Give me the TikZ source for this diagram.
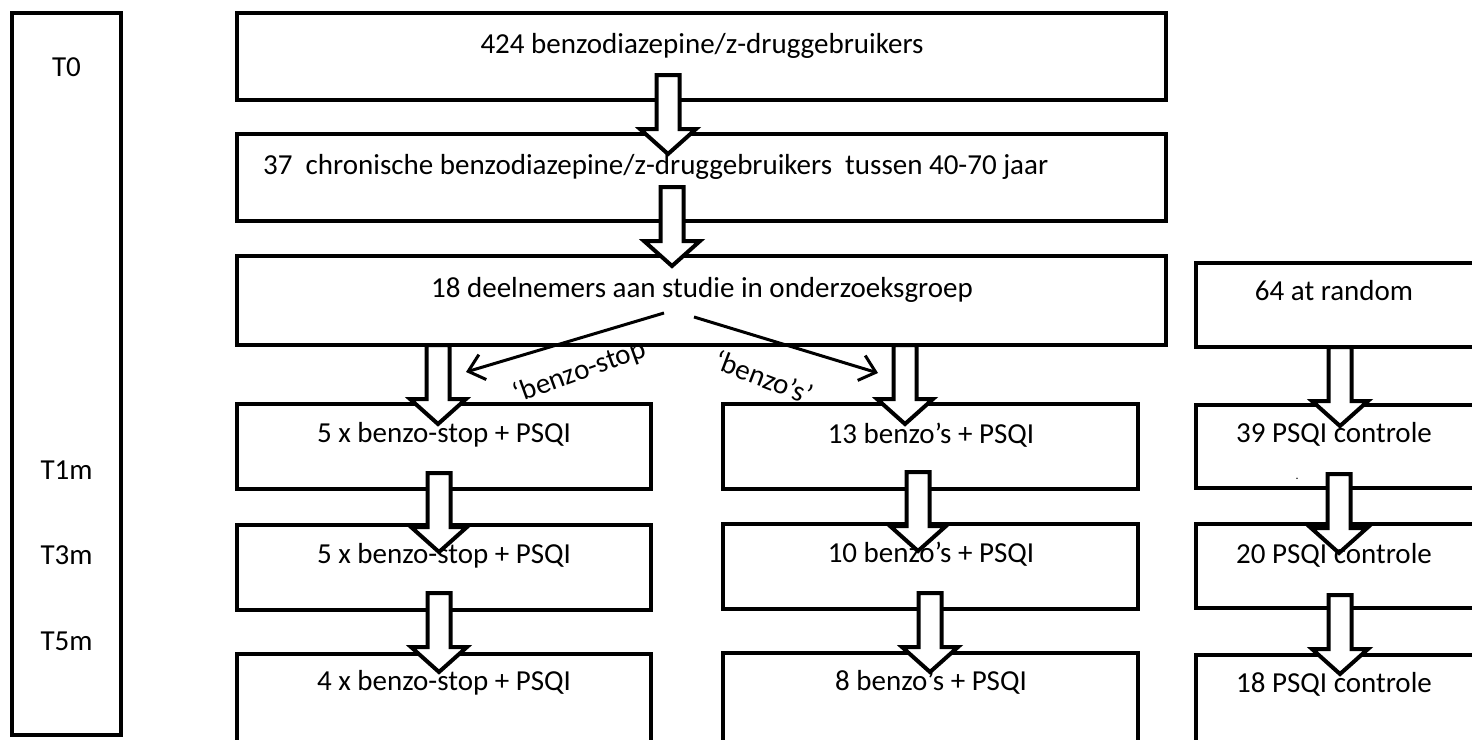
\documentclass[tikz,border=0pt]{standalone}
\usepackage{fontspec}
\setmainfont{Carlito}
\usetikzlibrary{arrows.meta}
\tikzset{
  framebox/.style={draw=black, line width=4pt, inner sep=0pt, minimum width=#1},
  txt/.style={font=\fontsize{29}{35}\selectfont, inner sep=0pt, anchor=base},
  lbl/.style={font=\fontsize{29}{35}\selectfont, inner sep=0pt, anchor=center},
  thinarrow/.style={line width=3pt, -{Straight Barb[length=15pt,width=26pt]}},
  blockarrow/.pic={\draw[line width=4pt, fill=white, line join=miter]
     (-11.5,0) -- (11.5,0) -- (11.5,54) -- (28,54) -- (0,79) -- (-28,54) -- (-11.5,54) -- cycle;}
}
\begin{document}
\begin{tikzpicture}[x=1pt,y=-1pt]
\useasboundingbox (0,0) rectangle (1472,739);
\fill[white] (0,0) rectangle (1472,739);
\clip (0,0) rectangle (1472,739);
% boxes
\node[framebox=109pt, minimum height=722pt] (tl) at (66.5,374) {};
\node[framebox=929pt, minimum height=87pt] (b1) at (701.5,56.5) {};
\node[framebox=929pt, minimum height=87pt] (b2) at (701.5,177.5) {};
\node[framebox=929pt, minimum height=89pt] (b3) at (701.5,300.5) {};
\node[framebox=277.5pt, minimum height=84pt] (r0) at (1334.75,305) {};
\node[framebox=414pt, minimum height=85pt] (l1) at (444,446.5) {};
\node[framebox=414pt, minimum height=85pt] (l2) at (444,567.5) {};
\node[framebox=414pt, minimum height=126pt] (l3) at (444,717) {};
\node[framebox=415pt, minimum height=85pt] (m1) at (930.5,446.5) {};
\node[framebox=415pt, minimum height=85pt] (m2) at (930.5,566.5) {};
\node[framebox=415pt, minimum height=126pt] (m3) at (930.5,716) {};
\node[framebox=277.5pt, minimum height=83pt] (r1) at (1334.75,446.5) {};
\node[framebox=277.5pt, minimum height=84pt] (r2) at (1334.75,566) {};
\node[framebox=277.5pt, minimum height=126pt] (r3) at (1334.75,718) {};
% block arrows
\pic at (668,75) {blockarrow};
\pic at (672,187) {blockarrow};
\pic at (438,345) {blockarrow};
\pic at (905,345) {blockarrow};
\pic at (1340,347) {blockarrow};
\pic at (439,473) {blockarrow};
\pic at (918,472) {blockarrow};
\pic at (1339,474) {blockarrow};
\pic at (439,593) {blockarrow};
\pic at (930,593) {blockarrow};
\pic at (1340,595) {blockarrow};
% thin arrows
\coordinate (s1) at (664,313);
\coordinate (e1) at (466,372);
\coordinate (s2) at (694,317);
\coordinate (e2) at (878,373);
\draw[thinarrow] (s1) -- (e1);
\draw[thinarrow] (s2) -- (e2);
% texts
\node[txt] (tT0) at (66.5,76) {T0};
\node[txt] (tT1) at (66.5,479) {T1m};
\node[txt] (tT3) at (66.5,564) {T3m};
\node[txt] (tT5) at (66.5,650) {T5m};
\node[txt] (t1) at (702,53) {424 benzodiazepine/z-druggebruikers};
\node[txt, anchor=base west] (t2) at (263,174) {37\ \ chronische benzodiazepine/z-druggebruikers\ \ tussen 40-70 jaar};
\node[txt] (t3) at (702,297) {18 deelnemers aan studie in onderzoeksgroep};
\node[txt] (tr0) at (1334,300) {64 at random};
\node[txt] (tl1) at (444,442) {5 x benzo-stop + PSQI};
\node[txt] (tl2) at (444,563) {5 x benzo-stop + PSQI};
\node[txt] (tl3) at (444,690) {4 x benzo-stop + PSQI};
\node[txt] (tm1) at (931,443) {13 benzo’s + PSQI};
\node[txt] (tm2) at (931,562) {10 benzo’s + PSQI};
\node[txt] (tm3) at (931,690) {8 benzo’s + PSQI};
\node[txt] (tr1) at (1334,442) {39 PSQI controle};
\node[txt] (tr2) at (1334,563) {20 PSQI controle};
\node[txt] (tr3) at (1334,692) {18 PSQI controle};
\node[txt, font=\fontsize{12}{14}\selectfont] (dot) at (1297,479) {.};
\node[lbl, rotate=20] (lbs) at (580,372) {‘benzo-stop};
\node[lbl, rotate=-21] (lbb) at (764,377) {‘benzo’s’};
\end{tikzpicture}
\end{document}
